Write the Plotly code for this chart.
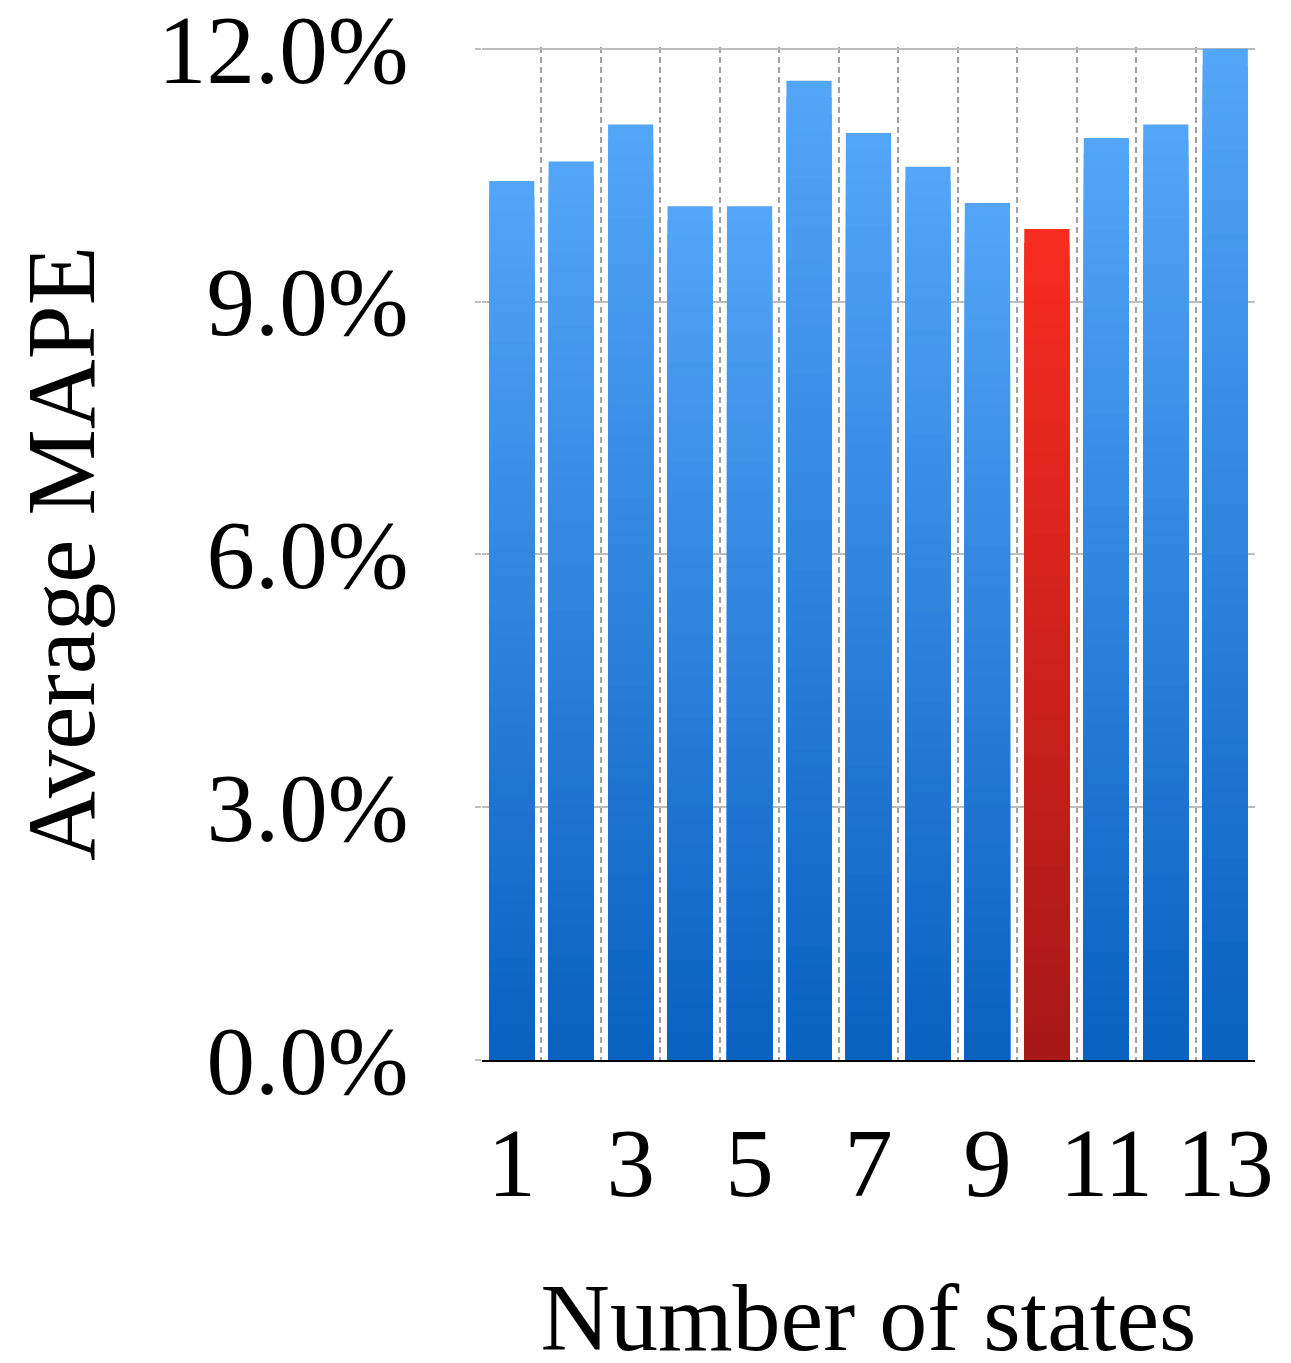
import plotly.graph_objects as go

states = [1, 2, 3, 4, 5, 6, 7, 8, 9, 10, 11, 12, 13]
avg_mape = [0.1043, 0.1066, 0.1110, 0.1013, 0.1013, 0.1162, 0.1100,
            0.1060, 0.1017, 0.0986, 0.1094, 0.1110, 0.1200]
best_state = 10
x_tick_vals = [1, 3, 5, 7, 9, 11, 13]
x_tick_text = ["1", "3", "5", "7", "9", "11", "13"]
y_tick_vals = [0.0, 0.03, 0.06, 0.09, 0.12]

BLUE_TOP, BLUE_BOT = (84, 166, 248), (8, 96, 192)
RED_TOP, RED_BOT = (248, 44, 32), (166, 24, 24)


def mix(c1, c2, t):
    return "rgb(%d,%d,%d)" % tuple(round(a + (b - a) * t) for a, b in zip(c1, c2))


fig = go.Figure()
N = 60
for k in range(N):
    frac = 1 - k / N           # height fraction of this layer
    t = (k + 0.5) / N          # 0 at top, 1 at bottom
    colors = [mix(RED_TOP, RED_BOT, t) if s == best_state else mix(BLUE_TOP, BLUE_BOT, t)
              for s in states]
    fig.add_trace(go.Bar(
        x=states, y=[v * frac for v in avg_mape],
        marker=dict(color=colors, line=dict(width=0)),
        width=0.76, showlegend=False, hoverinfo="skip" if k else None,
    ))

font = "Liberation Serif, Times New Roman, serif"
fig.update_layout(
    width=1291, height=1363,
    barmode="overlay",
    paper_bgcolor="white", plot_bgcolor="white",
    margin=dict(l=474, r=44, t=39, b=311, autoexpand=False),
    font=dict(family=font, color="black"),
    xaxis=dict(
        range=[0.5, 13.5], automargin=True,
        tickvals=x_tick_vals, ticktext=x_tick_text,
        tickfont=dict(size=97),
        showgrid=False, zeroline=False,
        showline=True, linecolor="black", linewidth=2,
        ticks="", ticklabelstandoff=18,
        minor=dict(tickvals=[s - 0.5 for s in states] + [states[-1] + 0.5],
                   showgrid=True, gridcolor="#A0A0A0", griddash="6px,4px", gridwidth=2),
        title=dict(text="Number of states", font=dict(size=96), standoff=72),
    ),
    yaxis=dict(
        range=[0, 0.1202], automargin=True,
        tickvals=y_tick_vals, tickformat=".1%",
        tickfont=dict(size=97),
        ticklabeloverflow="allow",
        showgrid=True, gridcolor="#BDBDBD", gridwidth=2,
        zeroline=False, showline=False,
        ticks="outside", ticklen=6, tickcolor="#BDBDBD", tickwidth=2,
        ticklabelstandoff=47,
        title=dict(text="Average MAPE", font=dict(size=97), standoff=60),
    ),
)

fig.write_html("out.html")
